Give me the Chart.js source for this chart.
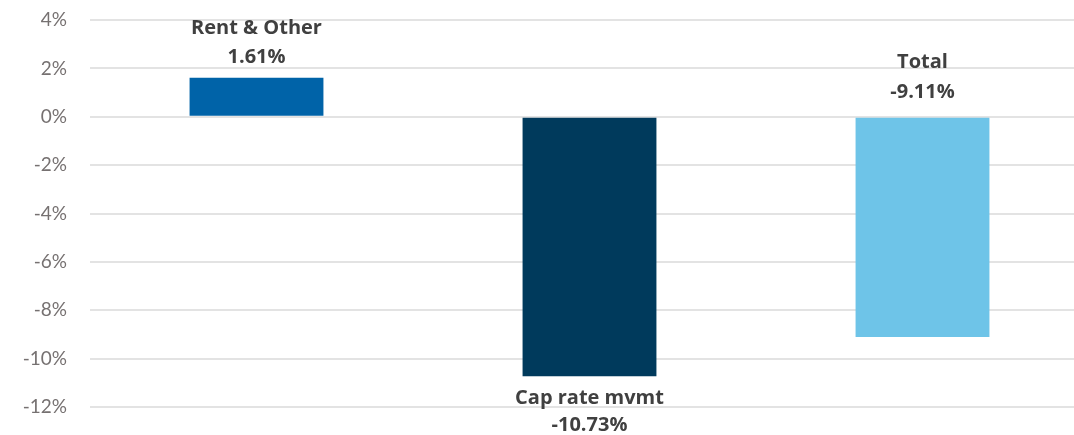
<!DOCTYPE html>
<html>
<head>
<meta charset="utf-8">
<script src="https://cdn.jsdelivr.net/npm/chart.js@4.4.0/dist/chart.umd.min.js"></script>
<style>
  html, body { margin: 0; padding: 0; background: #fff; overflow: hidden; }
  #wrap { width: 1090px; height: 435px; }
</style>
</head>
<body>
<div id="wrap"><canvas id="myChart"></canvas></div>
<script>
const categories = ["Rent & Other", "Cap rate mvmt", "Total"];
const values = [1.61, -10.73, -9.11];
const barColors = ["#0063A8", "#003A5C", "#6EC4E8"];
const labelAnchors = ["top", "bottom", "base"];
const yTicks = [4, 2, 0, -2, -4, -6, -8, -10, -12];

const barLabels = {
  id: "barLabels",
  afterDatasetsDraw(chart) {
    const ctx = chart.ctx;
    const meta = chart.getDatasetMeta(0);
    ctx.save();
    ctx.font = "bold 20px 'Open Sans'";
    ctx.fillStyle = "#404040";
    ctx.textAlign = "center";
    ctx.textBaseline = "middle";
    meta.data.forEach((bar, i) => {
      const lines = [categories[i], values[i].toFixed(2) + "%"];
      let y1, y2;
      if (labelAnchors[i] === "top") {
        y2 = bar.y - 21;
        y1 = y2 - 29;
      } else if (labelAnchors[i] === "bottom") {
        y1 = bar.y + 22;
        y2 = y1 + 27;
      } else {
        y2 = bar.base - 25;
        y1 = y2 - 30;
      }
      ctx.fillText(lines[0], bar.x, y1);
      ctx.fillText(lines[1], bar.x, y2);
    });
    ctx.restore();
  }
};

let ctx = document.getElementById("myChart").getContext("2d");
let myChart = new Chart(ctx, {
  type: "bar",
  data: {
    labels: categories,
    datasets: [
      {
        data: values,
        backgroundColor: barColors,
        barPercentage: 0.402,
        categoryPercentage: 1,
      },
    ],
  },
  options: {
    responsive: true,
    maintainAspectRatio: false,
    animation: false,
    layout: { padding: { top: 20, bottom: 28, right: 1, left: 0 } },
    plugins: { legend: { display: false }, tooltip: { enabled: false } },
    scales: {
      x: {
        display: false,
      },
      y: {
        min: -12,
        max: 4,
        afterFit(scale) {
          scale.width = 90;
          scale.paddingTop = 0;
          scale.paddingBottom = 0;
        },
        afterBuildTicks(scale) { scale.ticks = yTicks.map(v => ({ value: v })); },
        border: { display: false },
        grid: { color: "#E3E3E3", lineWidth: 2, drawTicks: false },
        ticks: {
          padding: 23,
          color: "#767171",
          font: { family: "Lato", size: 19 },
          callback: v => v + "%",
        },
      },
    },
  },
  plugins: [barLabels],
});
</script>
</body>
</html>
